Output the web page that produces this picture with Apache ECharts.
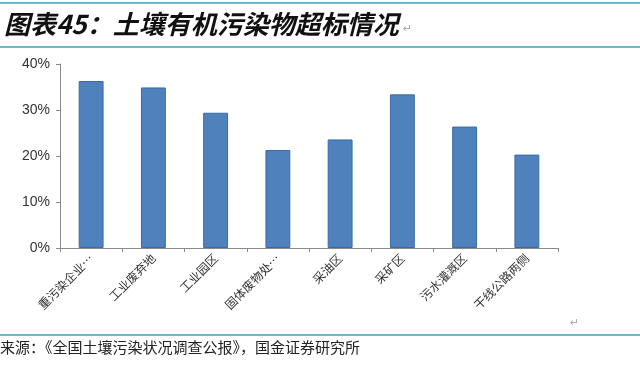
<!DOCTYPE html>
<html><head><meta charset="utf-8">
<script src="https://cdn.jsdelivr.net/npm/echarts@6/dist/echarts.min.js"></script>
<style>html,body{margin:0;padding:0;background:#fff;}#c{width:640px;height:372px;}</style>
</head><body><div id="c"></div>
<script>
const titleText = '图表45：土壤有机污染物超标情况';
const sourceText = '来源：《全国土壤污染状况调查公报》，国金证券研究所';
const categories = ['重污染企业…','工业废弃地','工业园区','固体废物处…','采油区','采矿区','污水灌溉区','干线公路两侧'];
const values = [36.3, 34.9, 29.4, 21.3, 23.6, 33.4, 26.4, 20.3];
const yTicks = [0, 10, 20, 30, 40];

const chart = echarts.init(document.getElementById('c'));
chart.setOption({
  animation: false,
  backgroundColor: '#fff',
  graphic: [
    {type:'rect', shape:{x:0,y:2,width:640,height:2}, style:{fill:'#6fb8c8'}},
    {type:'rect', shape:{x:0,y:46,width:640,height:2}, style:{fill:'#6fb8c8'}},
    {type:'text', left:4, top:11, style:{text:titleText, font:'italic bold 26px "Noto Sans CJK SC"', fill:'#111'}},
    {type:'text', left:403, top:24, style:{text:'↵', font:'11px "DejaVu Sans"', fill:'#aaa'}},
    {type:'rect', shape:{x:0,y:334,width:640,height:2}, style:{fill:'#6fb8c8'}},
    {type:'text', left:0, top:340, style:{text:sourceText, font:'15px "Noto Sans CJK SC"', fill:'#222'}},
    {type:'text', left:570, top:318, style:{text:'↵', font:'11px "DejaVu Sans"', fill:'#aaa'}}
  ],
  grid: {left:60, right:82, top:64, bottom:124},
  xAxis: {
    type:'category', data:categories,
    axisLine:{lineStyle:{color:'#888'}},
    axisTick:{show:true, length:4, lineStyle:{color:'#888'}},
    axisLabel:{rotate:45, fontSize:12, color:'#333', fontFamily:'"Noto Sans CJK SC"', margin:8, interval:0}
  },
  yAxis: {
    type:'value', min:yTicks[0], max:yTicks[yTicks.length-1], interval:10,
    axisLine:{show:true, lineStyle:{color:'#888'}},
    axisTick:{show:true, length:4, lineStyle:{color:'#888'}},
    splitLine:{show:false},
    axisLabel:{formatter:'{value}%', fontSize:14, color:'#333', fontFamily:'"Liberation Sans"', margin:10}
  },
  series: [{
    type:'bar', data:values, barWidth:'40%',
    itemStyle:{color:'#4f81bd', borderColor:'#3a6aa5', borderWidth:1}
  }]
});
</script></body></html>
